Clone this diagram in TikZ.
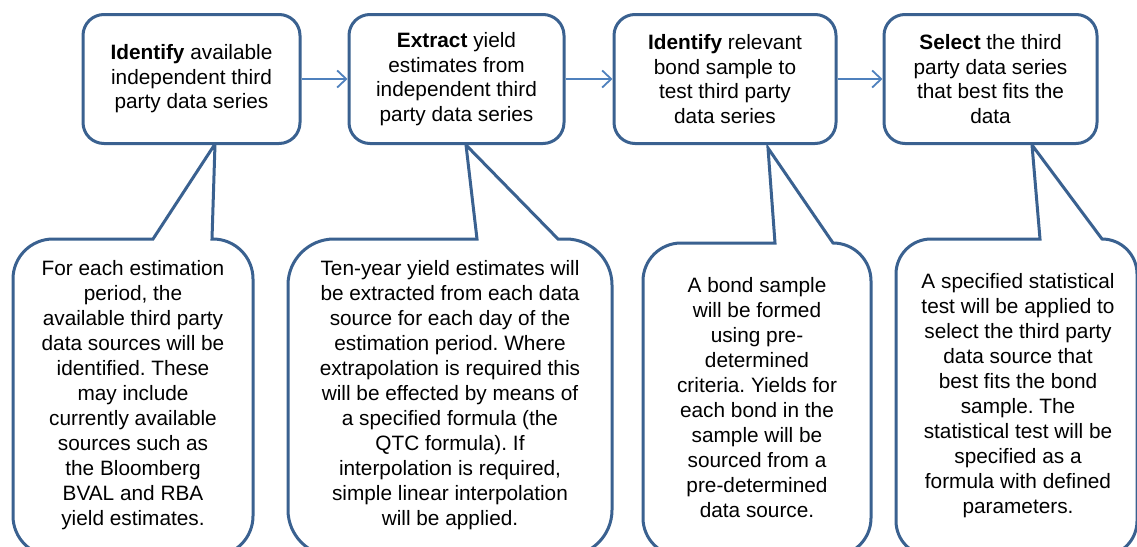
\documentclass[tikz,border=0pt]{standalone}
\usepackage{fontspec}
\setmainfont{Liberation Sans}
\usetikzlibrary{arrows.meta}
\definecolor{boxblue}{HTML}{3A6190}
\definecolor{arrowblue}{HTML}{4F81BD}
\newcommand\mycallout[9]{%
  \draw[cbox] (#6,-#3) -- ({#1+#5},-#3)
    arc[start angle=90,end angle=180,radius=#5] -- (#1,{-#4+#5})
    arc[start angle=180,end angle=270,radius=#5] -- ({#2-#5},-#4)
    arc[start angle=270,end angle=360,radius=#5] -- (#2,{-#3-#5})
    arc[start angle=0,end angle=90,radius=#5] -- (#7,-#3) -- (#8,-#9) -- cycle;}
\tikzset{
  stepbox/.style={draw=boxblue, line width=3pt, fill=white, rounded corners=21pt,
    minimum height=129pt, align=center, inner sep=0pt,
    font=\fontsize{20.8}{24.5}\selectfont},
  cbox/.style={draw=boxblue, line width=3pt, fill=white, line join=miter},
  ctext/.style={align=center, inner sep=0pt, font=\fontsize{20.8}{25}\selectfont},
  flow/.style={draw=arrowblue, line width=1.8pt, -{Straight Barb[length=9pt,width=17pt]}}
}
\frenchspacing
\begin{document}
\frenchspacing
\begin{tikzpicture}[x=1pt,y=1pt]
\useasboundingbox (0,0) rectangle (1137,-546);
\clip (0,0) rectangle (1137,-546);
\fill[white] (0,0) rectangle (1137,-546);

% callouts
\mycallout{13}{253}{239}{556}{40}{153}{212}{215}{144}
\mycallout{288}{612}{239}{556}{46}{477}{558}{466}{145}
\mycallout{643}{871}{243}{556}{38}{775}{833}{768}{148}
\mycallout{896}{1137}{239}{556}{35}{1040}{1102}{1032}{145}

% top step boxes
\node[stepbox, minimum width=217pt] (b1) at (191.5,-79)
  {\textbf{Identify} available\\independent third\\party data series};
\node[stepbox, minimum width=215pt] (b2) at (456.5,-79)
  {\textbf{Extract} yield\\estimates from\\independent third\\party data series};
\node[stepbox, minimum width=222pt] (b3) at (725,-79)
  {\textbf{Identify} relevant\\bond sample to\\test third party\\data series};
\node[stepbox, minimum width=213pt] (b4) at (990.5,-79)
  {\textbf{Select} the third\\party data series\\that best fits the\\data};

\draw[flow] (b1) -- (b2);
\draw[flow] (b2) -- (b3);
\draw[flow] (b3) -- (b4);

% callout texts
\node[ctext] (c1) at (133,-395)
  {For each estimation\\period, the\\available third party\\data sources will be\\identified. These\\may include\\currently available\\sources such as\\the Bloomberg\\BVAL and RBA\\yield estimates.};
\node[ctext] (c2) at (450,-395)
  {Ten-year yield estimates will\\be extracted from each data\\source for each day of the\\estimation period. Where\\extrapolation is required this\\will be effected by means of\\a specified formula (the\\QTC formula). If\\interpolation is required,\\simple linear interpolation\\will be applied.};
\node[ctext] (c3) at (757,-398)
  {A bond sample\\will be formed\\using pre-\\determined\\criteria. Yields for\\each bond in the\\sample will be\\sourced from a\\pre-determined\\data source.};
\node[ctext] (c4) at (1018,-396)
  {A specified statistical\\test will be applied to\\select the third party\\data source that\\best fits the bond\\sample. The\\statistical test will be\\specified as a\\formula with defined\\parameters.};
\end{tikzpicture}
\end{document}
